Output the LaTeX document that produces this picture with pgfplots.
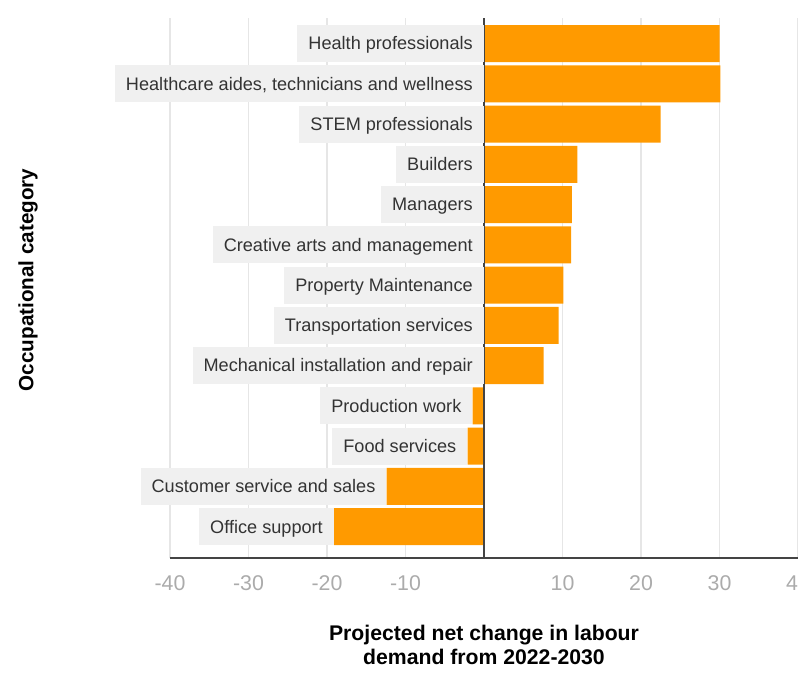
\documentclass[border=0pt]{standalone}
\usepackage{pgfplots}
\pgfplotsset{compat=1.18}
\usepackage{pgfplotstable}
\usepackage{fontspec}
\setmainfont{Liberation Sans}
\definecolor{barorange}{HTML}{FF9A00}
\definecolor{labelgray}{HTML}{F0F0F0}
\definecolor{gridgray}{HTML}{E6E6E6}
\definecolor{tickgray}{HTML}{ABABAB}
\definecolor{textdark}{HTML}{333333}
\definecolor{axisdark}{HTML}{444444}
\pgfplotstableread[col sep=semicolon]{
idx;val;lx;label
12;30.0;0;Health professionals
11;30.1;0;Healthcare aides, technicians and wellness
10;22.5;0;STEM professionals
9;11.9;0;Builders
8;11.2;0;Managers
7;11.1;0;Creative arts and management
6;10.1;0;Property Maintenance
5;9.5;0;Transportation services
4;7.6;0;Mechanical installation and repair
3;-1.45;-1.45;Production work
2;-2.1;-2.1;Food services
1;-12.4;-12.4;Customer service and sales
0;-19.1;-19.1;Office support
}\data
\begin{document}
\begin{tikzpicture}
\useasboundingbox (0,0) rectangle (598.5pt,504pt);
\begin{axis}[
  at={(127.5pt,85.5pt)}, anchor=south west,
  width=471pt, height=405pt, scale only axis,
  xmin=-40, xmax=40, ymin=-0.78, ymax=12.634,
  clip=false,
  axis x line*=bottom, axis y line=none,
  x axis line style={axisdark, line width=1.1pt, -},
  xtick={-40,-30,-20,-10,10,20,30,40},
  xticklabels={-40,-30,-20,-10,10,20,30,40},
  xticklabel style={anchor=center, yshift=-18.75pt, text=tickgray, font=\fontsize{16}{19}\selectfont},
  ytick=\empty,
  major tick length=0pt,
  xmajorgrids, grid style={gridgray, line width=0.8pt},
  xlabel={Projected net change in labour\\demand from 2022-2030},
  xlabel style={at={(axis description cs:0.5,-0.161)}, anchor=center, align=center, font=\bfseries\fontsize{15.9}{17.5}\selectfont, text=black},
]
\addplot[xbar, bar width=0.92, fill=barorange, draw=none] table[x=val, y=idx] {\data};
\addplot[draw=none, mark=none, nodes near coords, point meta=explicit symbolic,
  nodes near coords style={anchor=east, fill=labelgray, text=textdark,
    font=\fontsize{13.6}{16}\selectfont, inner xsep=8.25pt, inner ysep=0pt,
    minimum height=27.75pt, text height=9.6pt, text depth=0pt}]
  table[x=lx, y=idx, meta=label] {\data};
\draw[axisdark, line width=1pt] (axis cs:0,-0.78) -- (axis cs:0,12.634);
\node[rotate=90, anchor=center, font=\bfseries\fontsize{15.5}{18}\selectfont, text=black]
  at (axis description cs:-0.226,0.515) {Occupational category};
\end{axis}
\end{tikzpicture}
\end{document}
